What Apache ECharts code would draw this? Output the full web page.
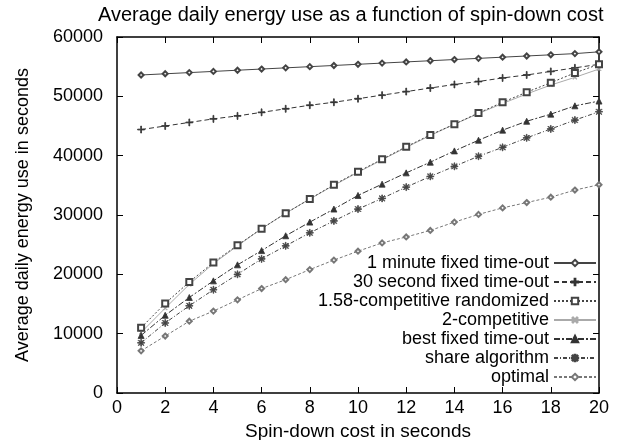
<!DOCTYPE html>
<html>
<head>
<meta charset="utf-8">
<script src="https://cdn.jsdelivr.net/npm/echarts@6/dist/echarts.min.js"></script>
<style>
  html, body { margin: 0; padding: 0; background: #fff; }
  #main { width: 618px; height: 440px; }
</style>
</head>
<body>
<div id="main"></div>
<script>
// spin-down cost (x), one point per second
const costs = [1, 2, 3, 4, 5, 6, 7, 8, 9, 10, 11, 12, 13, 14, 15, 16, 17, 18, 19, 20];

const oneMinute = [53600, 53800, 54000, 54200, 54400, 54600, 54800, 55000, 55200, 55400,
  55600, 55800, 56000, 56200, 56400, 56600, 56800, 57000, 57200, 57500];
const thirtySecond = [44400, 45000, 45600, 46200, 46700, 47300, 47900, 48500, 49000, 49600,
  50200, 50800, 51400, 52000, 52500, 53100, 53600, 54200, 54800, 55400];
const randomized = [11000, 15100, 18700, 22000, 24900, 27700, 30300, 32700, 35100, 37300,
  39400, 41500, 43500, 45300, 47200, 49000, 50700, 52300, 53950, 55400];
const twoCompetitive = [10200, 14300, 18300, 21800, 24800, 27700, 30300, 32700, 35000, 37200,
  39300, 41400, 43400, 45300, 47100, 48800, 50400, 51900, 53200, 54600];
const bestFixed = [9700, 13100, 16100, 18900, 21600, 24000, 26500, 28800, 31000, 33300,
  35200, 37100, 38900, 40800, 42600, 44300, 45800, 47000, 48400, 49200];
const share = [8460, 11800, 14700, 17400, 20000, 22600, 24800, 27000, 29000, 31000,
  32800, 34700, 36500, 38200, 39900, 41400, 43000, 44500, 46000, 47400];
const optimal = [7100, 9600, 12100, 13800, 15700, 17600, 19100, 20800, 22400, 23900,
  25300, 26300, 27400, 28800, 30100, 31200, 32100, 33000, 34200, 35100];

const names = [
  '1 minute fixed time-out',
  '30 second fixed time-out',
  '1.58-competitive randomized',
  '2-competitive',
  'best fixed time-out',
  'share algorithm',
  'optimal'
];

const PLUS = 'path://M4.4,0H5.6V4.4H10V5.6H5.6V10H4.4V5.6H0V4.4H4.4Z';
const STAR = 'path://M4.5,0H5.5V10H4.5Z M0,4.5H10V5.5H0Z M0.9,1.6L1.6,0.9L9.1,8.4L8.4,9.1Z M8.4,0.9L9.1,1.6L1.6,9.1L0.9,8.4Z';

const mk = (name, data, opt) => ({
  name: name,
  type: 'line',
  data: costs.map((c, i) => [c, data[i]]),
  symbol: opt.symbol,
  symbolSize: opt.size,
  symbolRotate: opt.rotate || 0,
  showAllSymbol: true,
  animation: false,
  z: opt.z || 2,
  lineStyle: { color: opt.color, width: 1, type: opt.dash },
  itemStyle: { color: opt.fill || opt.color, borderColor: opt.color, borderWidth: 0.8 }
});

const chart = echarts.init(document.getElementById('main'));
chart.setOption({
  animation: false,
  textStyle: { fontFamily: 'Liberation Sans', color: '#000' },
  title: {
    text: 'Average daily energy use as a function of spin-down cost',
    left: 98, top: 5, padding: 0,
    textStyle: { fontSize: 20, fontWeight: 'normal', color: '#000', fontFamily: 'Liberation Sans' }
  },
  grid: { left: 117, right: 19, top: 37, bottom: 47, outerBoundsMode: 'none', containLabel: false },
  legend: {
    orient: 'vertical',
    align: 'right',
    right: 21, top: 254, padding: 0,
    itemWidth: 42, itemHeight: 8, itemGap: 1,
    data: names,
    textStyle: { fontSize: 18, color: '#000', lineHeight: 18, fontFamily: 'Liberation Sans' }
  },
  xAxis: [{
    type: 'value', min: 0, max: 20, interval: 2,
    name: 'Spin-down cost in seconds', nameLocation: 'middle', nameGap: 28,
    nameTextStyle: { fontSize: 19, color: '#000' },
    axisLine: { onZero: false, lineStyle: { color: '#000', width: 1.5 } },
    axisTick: { inside: true, length: 6, lineStyle: { color: '#000' } },
    axisLabel: { fontSize: 18, color: '#000', margin: 6 },
    splitLine: { show: false }
  }, {
    type: 'value', min: 0, max: 20, interval: 2, position: 'top',
    axisLine: { onZero: false, lineStyle: { color: '#000', width: 1.5 } },
    axisTick: { inside: true, length: 6, lineStyle: { color: '#000' } },
    axisLabel: { show: false },
    splitLine: { show: false }
  }],
  yAxis: [{
    type: 'value', min: 0, max: 60000, interval: 10000,
    name: 'Average daily energy use in seconds', nameLocation: 'middle', nameGap: 85,
    nameTextStyle: { fontSize: 18, color: '#000' },
    axisLine: { show: true, onZero: false, lineStyle: { color: '#000', width: 1.5 } },
    axisTick: { show: true, inside: true, length: 6, lineStyle: { color: '#000' } },
    axisLabel: { fontSize: 18, color: '#000', margin: 14, formatter: (v) => String(v) },
    splitLine: { show: false }
  }, {
    type: 'value', min: 0, max: 60000, interval: 10000, position: 'right',
    axisLine: { show: true, onZero: false, lineStyle: { color: '#000', width: 1.5 } },
    axisTick: { show: true, inside: true, length: 6, lineStyle: { color: '#000' } },
    axisLabel: { show: false },
    splitLine: { show: false }
  }],
  series: [
    mk(names[0], oneMinute, { symbol: 'emptyDiamond', size: 5, color: '#444', dash: 'solid' }),
    mk(names[1], thirtySecond, { symbol: PLUS, size: 7, color: '#333', dash: [5, 3] }),
    mk(names[2], randomized, { symbol: 'emptyRect', size: 6, color: '#444', dash: [2, 2], z: 3 }),
    mk(names[3], twoCompetitive, { symbol: PLUS, size: 5, rotate: 45, color: '#aaa', dash: 'solid' }),
    mk(names[4], bestFixed, { symbol: 'triangle', size: 6, color: '#333', dash: [6, 2, 2, 2] }),
    mk(names[5], share, { symbol: STAR, size: 7, color: '#444', dash: [4, 2, 1, 2] }),
    mk(names[6], optimal, { symbol: 'emptyDiamond', size: 5, color: '#777', dash: [3, 2] })
  ]
});
</script>
</body>
</html>
